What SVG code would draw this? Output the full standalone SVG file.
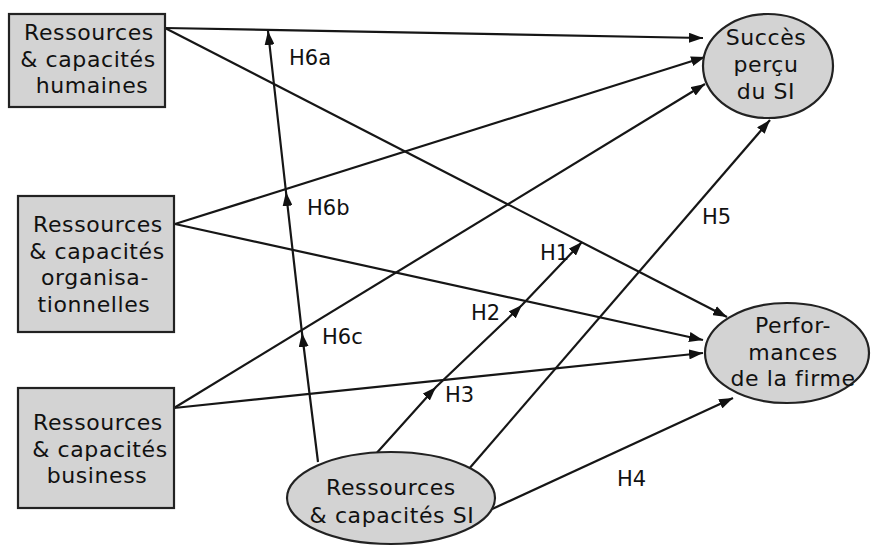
<svg xmlns="http://www.w3.org/2000/svg" width="872" height="546" viewBox="0 0 872 546">
<defs>
<marker id="ah" viewBox="0 0 14 10" markerWidth="14" markerHeight="10" refX="14" refY="5" orient="auto" markerUnits="userSpaceOnUse">
<path d="M0,0 L14,5 L0,10 z" fill="#111"/>
</marker>
<style>
.node{fill:#d3d3d3;stroke:#222;stroke-width:2.2}
.t{font-family:"DejaVu Sans",sans-serif;font-size:22px;fill:#111;text-anchor:middle;letter-spacing:0.6px}
.h{font-family:"DejaVu Sans",sans-serif;font-size:21px;fill:#111}
.c{fill:none;stroke:#161616;stroke-width:2.2;marker-end:url(#ah)}
.m{marker-mid:url(#ah)}
</style>
</defs>
<rect width="872" height="546" fill="#fff"/>
<g id="connectors">
<path class="c" d="M165,28 L703,38"/>
<path class="c" d="M165,28 L727,317"/>
<path class="c" d="M175,224 L705,57"/>
<path class="c" d="M175,224 L703,340"/>
<path class="c" d="M174,408 L705,84"/>
<path class="c" d="M174,408 L703,353"/>
<path class="c m" d="M318,462 L302,333 L286,192 L268,31"/>
<path class="c m" d="M374,456 L436,387 L522,305 L582,242"/>
<path class="c" d="M468,470 L770,120"/>
<path class="c" d="M490,510 L733,398"/>
<text class="h" x="289" y="65">H6a</text>
<text class="h" x="307" y="215">H6b</text>
<text class="h" x="322" y="344">H6c</text>
<text class="h" x="540" y="260">H1</text>
<text class="h" x="471" y="320">H2</text>
<text class="h" x="445" y="402">H3</text>
<text class="h" x="702" y="224">H5</text>
<text class="h" x="617" y="486">H4</text>
</g>
<g id="humaines">
<rect class="node" x="9" y="14" width="156" height="93"/>
<text class="t" x="89" y="40">Ressources</text>
<text class="t" x="88" y="67">&amp; capacités</text>
<text class="t" x="92" y="93">humaines</text>
</g>
<g id="organisationnelles">
<rect class="node" x="18" y="196" width="156" height="136"/>
<text class="t" x="98" y="232">Ressources</text>
<text class="t" x="97" y="259">&amp; capacités</text>
<text class="t" x="95" y="285">organisa-</text>
<text class="t" x="94" y="312">tionnelles</text>
</g>
<g id="business">
<rect class="node" x="18" y="388" width="156" height="120"/>
<text class="t" x="98" y="430">Ressources</text>
<text class="t" x="100" y="457">&amp; capacités</text>
<text class="t" x="97" y="483">business</text>
</g>
<g id="succes">
<ellipse class="node" cx="768" cy="66" rx="65" ry="52"/>
<text class="t" x="766" y="45">Succès</text>
<text class="t" x="766" y="72">perçu</text>
<text class="t" x="766" y="99">du SI</text>
</g>
<g id="performances">
<ellipse class="node" cx="787" cy="353" rx="82" ry="50"/>
<text class="t" x="793" y="333">Perfor-</text>
<text class="t" x="793" y="360">mances</text>
<text class="t" x="793" y="386">de la firme</text>
</g>
<g id="si">
<ellipse class="node" cx="391" cy="498" rx="104" ry="46"/>
<text class="t" x="391" y="495">Ressources</text>
<text class="t" x="392" y="523">&amp; capacités SI</text>
</g>
</svg>
